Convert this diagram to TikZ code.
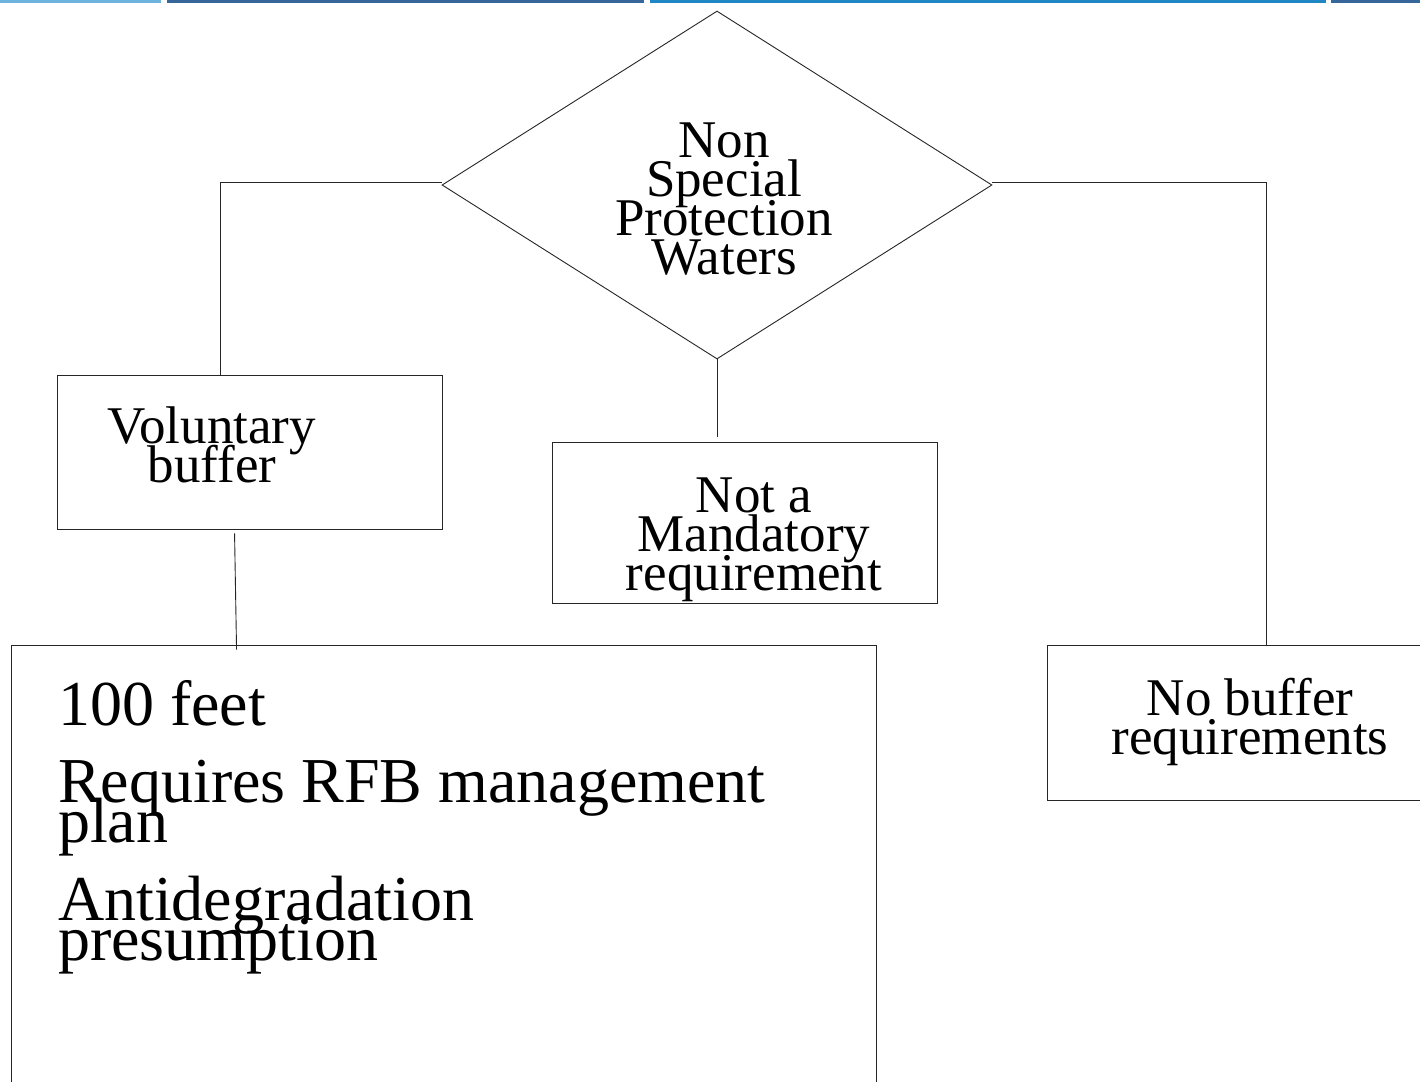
\documentclass[tikz,border=0pt]{standalone}
\usepackage{fontspec}
\setmainfont{Liberation Serif}
\usetikzlibrary{shapes.geometric}
\definecolor{barlight}{HTML}{6CB4DE}
\definecolor{bardark}{HTML}{37679A}
\definecolor{barmid}{HTML}{1F87C3}
\begin{document}
% lines are set closer than the font's height; keep the fixed baseline distance
\lineskiplimit=-200pt\relax
\lineskip=0pt\relax
\begin{tikzpicture}[x=1pt,y=-1pt,
  frame/.style={draw=black!85,line width=0.9pt},
  wire/.style={draw=black!85,line width=0.9pt},
  boxshape/.style={frame,rectangle,inner sep=0pt},
  label/.style={inner sep=0pt,anchor=base,align=center,
    font=\fontsize{53}{39}\selectfont},
  listtext/.style={inner sep=0pt,anchor=base west,align=left,
    font=\fontsize{64}{40}\selectfont}]
\useasboundingbox (0,0) rectangle (1420,1081);
\clip (0,0) rectangle (1420,1081);
\fill[white] (0,0) rectangle (1420,1081);

% header rule
\fill[barlight] (0,0) rectangle (161,3.5);
\fill[bardark] (167,0) rectangle (644,3.5);
\fill[barmid] (650,0) rectangle (1326,3.5);
\fill[bardark] (1331,0) rectangle (1420,3.5);

% decision (text anchored at the baseline of its last line)
\node[frame,diamond,inner sep=0pt,minimum width=550pt,minimum height=348pt,
  aspect=1.58] (dia) at (717,185) {};
\node[label] (diatext) at (724,274) {Non\\Special\\Protection\\Waters};

% outcome boxes
\node[boxshape,minimum width=385pt,minimum height=154pt] (vol) at (249.5,452) {};
\node[label] (voltext) at (212,482) {Voluntary\\buffer};

\node[boxshape,minimum width=385pt,minimum height=161pt] (mand) at (744.5,522.5) {};
\node[label] (mandtext) at (754,590) {Not a\\Mandatory\\requirement};

\node[boxshape,minimum width=400pt,minimum height=155pt] (nob) at (1247,722.5) {};
\node[label] (nobtext) at (1250,754) {No buffer\\requirements};

\node[boxshape,minimum width=865pt,minimum height=480pt] (big) at (443.5,885) {};
\node[listtext] (bigtext) at (58,960)
  {100 feet\\[37pt]Requires RFB management\\plan\\[38pt]Antidegradation\\presumption};

% connectors
\coordinate (midend) at (717,437);
\draw[wire] ([yshift=3pt]dia.west) -| ([xshift=164pt]vol.north west);
\draw[wire] ([yshift=3pt]dia.east) -| ([xshift=220pt]nob.north west);
\draw[wire] (dia.south) -- (midend);
\draw[wire] ([xshift=178pt,yshift=-4pt]vol.south west) -- ([xshift=226pt,yshift=-5pt]big.north west);
\end{tikzpicture}
\end{document}
